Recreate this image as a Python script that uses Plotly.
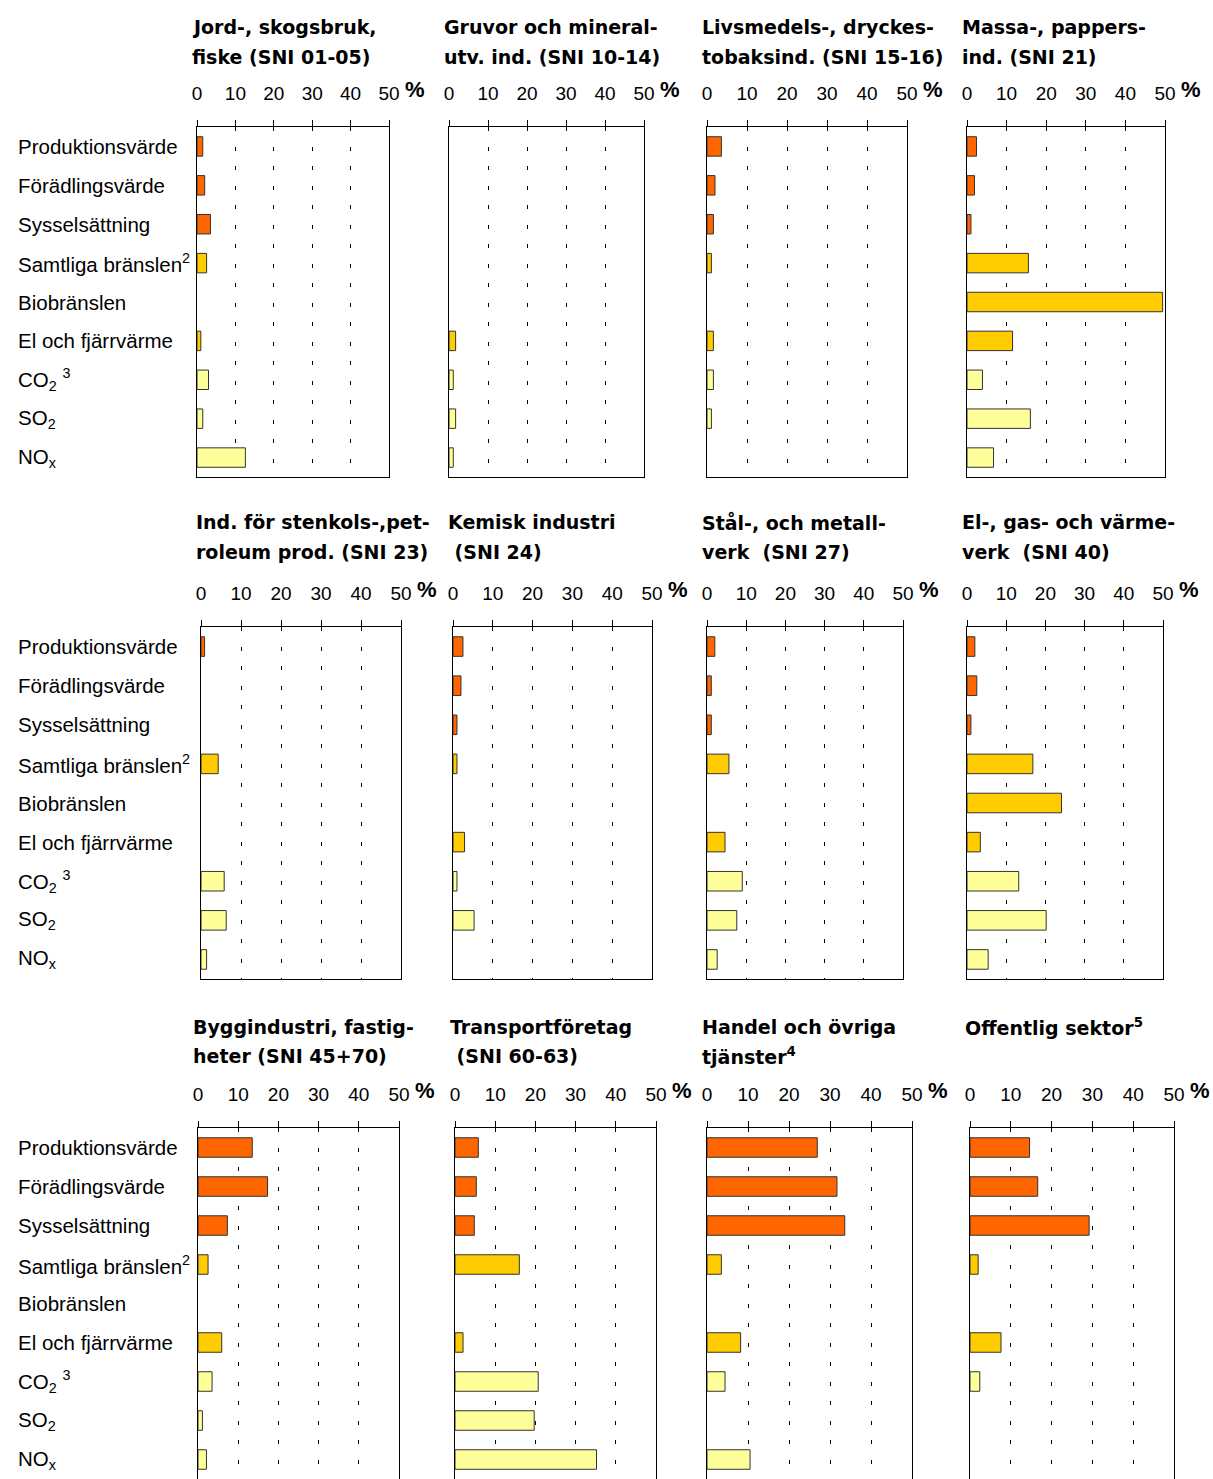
import plotly.graph_objects as go

W, H = 1213, 1479

categories = ["Produktionsvärde", "Förädlingsvärde", "Sysselsättning",
              "Samtliga bränslen<sup>2</sup>", "Biobränslen", "El och fjärrvärme",
              "CO<sub>2</sub> <sup>3</sup>", "SO<sub>2</sub>", "NO<sub>x</sub>"]

tick_values = [0, 10, 20, 30, 40, 50]
tick_labels = ["0", "10", "20", "30", "40", "50"]

# Panel values (%), None = no bar
jord      = [1.5, 2.0, 3.5, 2.5, None, 1.0, 3.0, 1.5, 12.6]
gruvor    = [None, None, None, None, None, 1.7, 1.1, 1.7, 1.1]
livsmedel = [3.6, 2.0, 1.6, 1.1, None, 1.6, 1.6, 1.1, None]
massa     = [2.4, 1.9, 1.0, 15.5, 49.4, 11.5, 3.9, 16.0, 6.7]
stenkol   = [0.9, None, None, 4.3, None, None, 5.8, 6.3, 1.4]
kemisk    = [2.5, 2.0, 1.0, 1.0, None, 2.9, 1.0, 5.3, None]
stal      = [2.0, 1.1, 1.1, 5.6, None, 4.6, 9.0, 7.6, 2.6]
elgas     = [2.0, 2.5, 1.0, 16.8, 24.1, 3.4, 13.2, 20.2, 5.4]
bygg      = [13.5, 17.3, 7.3, 2.5, None, 5.9, 3.5, 1.1, 2.1]
transport = [5.8, 5.3, 4.8, 16.0, None, 2.0, 20.7, 19.7, 35.2]
handel    = [26.9, 31.7, 33.6, 3.5, None, 8.2, 4.4, None, 10.5]
offentlig = [14.6, 16.6, 29.2, 2.0, None, 7.6, 2.4, None, None]

titles_line1 = ["Jord-, skogsbruk,", "Gruvor och mineral-", "Livsmedels-, dryckes-", "Massa-, pappers-",
                "Ind. för stenkols-,pet-", "Kemisk industri", "Stål-, och metall-", "El-, gas- och värme-",
                "Byggindustri, fastig-", "Transportföretag", "Handel och övriga", "Offentlig sektor<sup>5</sup>"]
titles_line2 = ["fiske (SNI 01-05)", "utv. ind. (SNI 10-14)", "tobaksind. (SNI 15-16)", "ind. (SNI 21)",
                "roleum prod. (SNI 23)", " (SNI 24)", "verk  (SNI 27)", "verk  (SNI 40)",
                "heter (SNI 45+70)", " (SNI 60-63)", "tjänster<sup>4</sup>", ""]

panels = [jord, gruvor, livsmedel, massa, stenkol, kemisk, stal, elgas,
          bygg, transport, handel, offentlig]

bar_colors = ["#FF6600"] * 3 + ["#FFCC00"] * 3 + ["#FFFF99"] * 3

# layout geometry (pixels)
x_px = [(197, 389), (449, 644), (707, 907), (967, 1165),
        (201, 401), (453, 652), (707, 903), (967, 1163),
        (198, 399), (455, 656), (707, 912), (970, 1174)]
y_px = [(127, 477), (627, 979), (1128, 1479)]
title_off = [(100, 70), (105, 75), (101, 72)]

fig = go.Figure()
layout = dict(width=W, height=H, autosize=False, margin=dict(l=0, r=0, t=0, b=0, autoexpand=False),
              paper_bgcolor="white", plot_bgcolor="white", template="none",
              showlegend=False, bargap=0.5)
annotations = []

for i, vals in enumerate(panels):
    n = i + 1
    row = i // 4
    sfx = "" if n == 1 else str(n)
    fig.add_trace(go.Bar(
        x=vals, y=categories, orientation="h",
        xaxis="x" + sfx, yaxis="y" + sfx,
        marker=dict(color=bar_colors, line=dict(color="#333333", width=1)),
        hoverinfo="x+y",
    ))
    x0, x1 = x_px[i]
    t, b = y_px[row]
    layout["xaxis" + sfx] = dict(
        domain=[x0 / W, x1 / W], anchor="y" + sfx, side="top", automargin=False,
        range=[0, 50], tickvals=tick_values, ticktext=tick_labels,
        ticks="outside", ticklen=6, tickcolor="black", tickwidth=1,
        ticklabelstandoff=12,
        tickfont=dict(family="Liberation Sans, Arial", size=19, color="black"),
        showline=True, linecolor="black", linewidth=1,
        mirror=(row < 2),
        showgrid=True, gridcolor="black", gridwidth=1, griddash="4px,15.5px",
        zeroline=False, fixedrange=True,
    )
    layout["yaxis" + sfx] = dict(
        domain=[1 - b / H, 1 - t / H], anchor="x" + sfx, automargin=False,
        type="category", categoryarray=categories, autorange="reversed",
        showticklabels=False, ticks="", showgrid=False, zeroline=False,
        showline=True, linecolor="black", linewidth=1, mirror=True,
        fixedrange=True,
    )
    # percent sign
    annotations.append(dict(
        text="<b>%</b>", xref="x" + sfx + " domain", yref="y" + sfx + " domain",
        x=1, y=1, xshift=26, yshift=38, xanchor="center", yanchor="middle",
        showarrow=False, font=dict(family="Liberation Sans, Arial", size=22, color="black")))
    # titles
    o1, o2 = title_off[row]
    annotations.append(dict(
        text="<b>" + titles_line1[i] + "</b>", xref="x" + sfx + " domain", yref="y" + sfx + " domain",
        x=0, y=1, xshift=-7, yshift=o1, xanchor="left", yanchor="middle",
        showarrow=False, font=dict(family="DejaVu Sans", size=19, color="black")))
    if titles_line2[i]:
        annotations.append(dict(
            text="<b>" + titles_line2[i] + "</b>", xref="x" + sfx + " domain", yref="y" + sfx + " domain",
            x=0, y=1, xshift=-7, yshift=o2, xanchor="left", yanchor="middle",
            showarrow=False, font=dict(family="DejaVu Sans", size=19, color="black")))
    # row category labels on left column
    if i % 4 == 0:
        for c in categories:
            annotations.append(dict(
                text=c, xref="paper", yref="y" + sfx, x=16 / W, y=c,
                xanchor="left", yanchor="middle", showarrow=False,
                font=dict(family="Liberation Sans, Arial", size=20.5, color="black")))

layout["annotations"] = annotations
fig.update_layout(**layout)
fig.write_html("out.html",
               config={"responsive": False, "displayModeBar": False},
               post_script="document.body.style.margin='0';document.body.style.overflow='hidden';")
